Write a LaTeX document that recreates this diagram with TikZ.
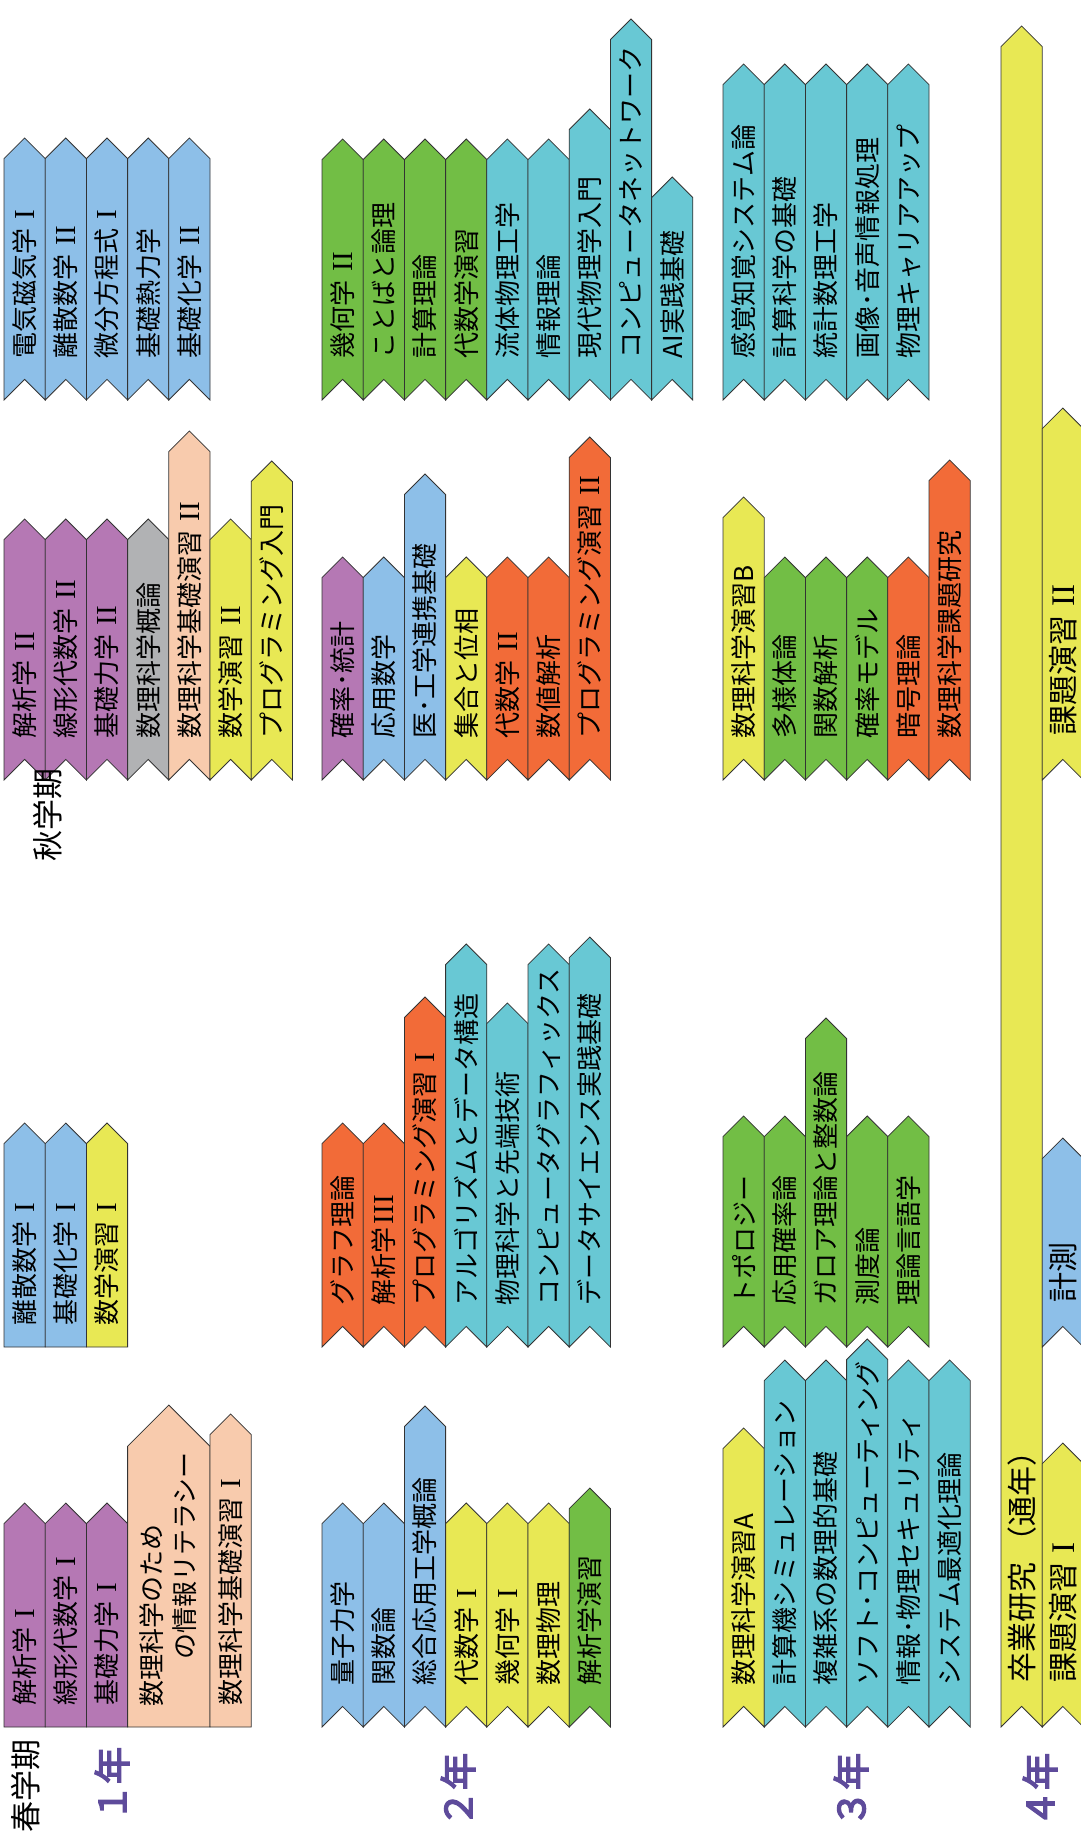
\documentclass[tikz,border=0pt]{standalone}
\usepackage{fontspec}
\newfontfamily\jp{Noto Sans CJK JP}
\newfontfamily\jpb[FakeBold=4]{Noto Sans CJK JP}
\newfontfamily\rmn{Liberation Serif}
\definecolor{cpurple}{RGB}{181,120,180}
\definecolor{cpeach}{RGB}{248,203,173}
\definecolor{cblue}{RGB}{141,191,232}
\definecolor{cyellow}{RGB}{232,232,84}
\definecolor{cgray}{RGB}{177,178,180}
\definecolor{corange}{RGB}{242,107,56}
\definecolor{cgreen}{RGB}{114,190,69}
\definecolor{ccyan}{RGB}{104,200,212}
\definecolor{clabel}{RGB}{94,75,155}
\tikzset{
  colbox/.style={draw=black!80, line width=0.8pt, line join=miter},
  ctext/.style={font=\jp\fontsize{26}{30}\selectfont, rotate=90, anchor=west, inner sep=0pt},
  termlabel/.style={font=\jp\fontsize{31}{34}\selectfont, rotate=90, inner sep=0pt},
  yearlabel/.style={font=\jpb\fontsize{37}{40}\selectfont, text=clabel, rotate=90, inner sep=0pt}
}
\newcommand\textgap{21}
\newcommand\numsize{29}
% Roman numeral with a gap before it, and without
\newcommand\RN[1]{\hspace{9pt}{\rmn\fontsize{\numsize}{\numsize}\selectfont #1}}
\newcommand\RNt[1]{\hspace{3pt}{\rmn\fontsize{\numsize}{\numsize}\selectfont #1}}
% #1 name, #2 x, #3 width, #4 tip y, #5 bottom y, #6 notch (0/1), #7 colour, #8 text
\newcommand\course[8]{%
  \pgfmathsetmacro\hw{#3/2}%
  \pgfmathsetmacro\sh{#4+#3/2}%
  \pgfmathsetmacro\nt{#5-#6*#3/2}%
  \filldraw[colbox, fill=#7] (#2,#5) -- (#2,\sh) -- (#2+\hw,#4) -- (#2+#3,\sh) -- (#2+#3,#5) -- (#2+\hw,\nt) -- cycle;
  \node[ctext] (#1) at (#2+\hw,\nt-\textgap) {#8};
}
\begin{document}
\begin{tikzpicture}[x=1pt,y=-1pt]
\useasboundingbox[fill=white] (0,0) rectangle (1081,1842);
% ---------- Year 1 ----------
\course{a1}{4}{41.2}{1503}{1727}{0}{cpurple}{解析学\RN{I}}
\course{a2}{45.2}{41.2}{1503}{1727}{0}{cpurple}{線形代数学\RN{I}}
\course{a3}{86.4}{41.2}{1503}{1727}{0}{cpurple}{基礎力学\RN{I}}
\course{a4}{127.6}{82.4}{1405}{1727}{0}{cpeach}{}
\node[ctext] (a4l1) at (152,1707) {数理科学のため};
\node[ctext] (a4l2) at (185,1660) {の情報リテラシー};
\course{a5}{210}{41.2}{1414}{1727}{0}{cpeach}{数理科学基礎演習\RN{I}}
\course{b1}{4}{41.2}{1123}{1347}{0}{cblue}{離散数学\RN{I}}
\course{b2}{45.2}{41.2}{1123}{1347}{0}{cblue}{基礎化学\RN{I}}
\course{b3}{86.4}{41.2}{1123}{1347}{0}{cyellow}{数学演習\RN{I}}
\course{c1}{4}{41.2}{519}{780}{1}{cpurple}{解析学\RN{II}}
\course{c2}{45.2}{41.2}{519}{780}{1}{cpurple}{線形代数学\RN{II}}
\course{c3}{86.4}{41.2}{519}{780}{1}{cpurple}{基礎力学\RN{II}}
\course{c4}{127.6}{41.2}{519}{780}{1}{cgray}{数理科学概論}
\course{c5}{168.8}{41.2}{431}{780}{1}{cpeach}{数理科学基礎演習\RN{II}}
\course{c6}{210}{41.2}{519}{780}{1}{cyellow}{数学演習\RN{II}}
\course{c7}{251.2}{41.2}{461}{780}{1}{cyellow}{プログラミング入門}
\course{d1}{4}{41.2}{138}{400}{1}{cblue}{電気磁気学\RN{I}}
\course{d2}{45.2}{41.2}{138}{400}{1}{cblue}{離散数学\RN{II}}
\course{d3}{86.4}{41.2}{138}{400}{1}{cblue}{微分方程式\RN{I}}
\course{d4}{127.6}{41.2}{138}{400}{1}{cblue}{基礎熱力学}
\course{d5}{168.8}{41.2}{138}{400}{1}{cblue}{基礎化学\RN{II}}
% ---------- Year 2 ----------
\course{e1}{322}{41.2}{1503}{1727}{1}{cblue}{量子力学}
\course{e2}{363.2}{41.2}{1503}{1727}{1}{cblue}{関数論}
\course{e3}{404.4}{41.2}{1406}{1727}{1}{cblue}{総合応用工学概論}
\course{e4}{445.6}{41.2}{1503}{1727}{1}{cyellow}{代数学\RN{I}}
\course{e5}{486.8}{41.2}{1503}{1727}{1}{cyellow}{幾何学\RN{I}}
\course{e6}{528}{41.2}{1503}{1727}{1}{cyellow}{数理物理}
\course{e7}{569.2}{41.2}{1488}{1727}{1}{cgreen}{解析学演習}
\course{f1}{322}{41.2}{1123}{1347}{1}{corange}{グラフ理論}
\course{f2}{363.2}{41.2}{1123}{1347}{1}{corange}{解析学\RNt{III}}
\course{f3}{404.4}{41.2}{997}{1347}{1}{corange}{プログラミング演習\RN{I}}
\course{f4}{445.6}{41.2}{944}{1347}{1}{ccyan}{アルゴリズムとデータ構造}
\course{f5}{486.8}{41.2}{1003}{1347}{1}{ccyan}{物理科学と先端技術}
\course{f6}{528}{41.2}{944}{1347}{1}{ccyan}{コンピュータグラフィックス}
\course{f7}{569.2}{41.2}{937}{1347}{1}{ccyan}{データサイエンス実践基礎}
\course{g1}{322}{41.2}{557}{780}{1}{cpurple}{確率･統計}
\course{g2}{363.2}{41.2}{557}{780}{1}{cblue}{応用数学}
\course{g3}{404.4}{41.2}{474}{780}{1}{cblue}{医･工学連携基礎}
\course{g4}{445.6}{41.2}{557}{780}{1}{cyellow}{集合と位相}
\course{g5}{486.8}{41.2}{557}{780}{1}{corange}{代数学\RN{II}}
\course{g6}{528}{41.2}{557}{780}{1}{corange}{数値解析}
\course{g7}{569.2}{41.2}{437}{780}{1}{corange}{プログラミング演習\RN{II}}
\course{h1}{322}{41.2}{139}{400}{1}{cgreen}{幾何学\RN{II}}
\course{h2}{363.2}{41.2}{139}{400}{1}{cgreen}{ことばと論理}
\course{h3}{404.4}{41.2}{139}{400}{1}{cgreen}{計算理論}
\course{h4}{445.6}{41.2}{139}{400}{1}{cgreen}{代数学演習}
\course{h5}{486.8}{41.2}{139}{400}{1}{ccyan}{流体物理工学}
\course{h6}{528}{41.2}{139}{400}{1}{ccyan}{情報理論}
\course{h7}{569.2}{41.2}{109}{400}{1}{ccyan}{現代物理学入門}
\course{h8}{610.4}{41.2}{19}{400}{1}{ccyan}{コンピュータネットワーク}
\course{h9}{651.6}{41.2}{177}{400}{1}{ccyan}{AI実践基礎}
% ---------- Year 3 ----------
\course{i1}{723}{41.2}{1428}{1727}{1}{cyellow}{数理科学演習A}
\course{i2}{764.2}{41.2}{1360}{1727}{1}{ccyan}{計算機シミュレーション}
\course{i3}{805.4}{41.2}{1360}{1727}{1}{ccyan}{複雑系の数理的基礎}
\course{i4}{846.6}{41.2}{1339}{1727}{1}{ccyan}{ソフト･コンピューティング}
\course{i5}{887.8}{41.2}{1360}{1727}{1}{ccyan}{情報･物理セキュリティ}
\course{i6}{929}{41.2}{1360}{1727}{1}{ccyan}{システム最適化理論}
\course{j1}{723}{41.2}{1116}{1347}{1}{cgreen}{トポロジー}
\course{j2}{764.2}{41.2}{1116}{1347}{1}{cgreen}{応用確率論}
\course{j3}{805.4}{41.2}{1018}{1347}{1}{cgreen}{ガロア理論と整数論}
\course{j4}{846.6}{41.2}{1116}{1347}{1}{cgreen}{測度論}
\course{j5}{887.8}{41.2}{1116}{1347}{1}{cgreen}{理論言語学}
\course{k1}{723}{41.2}{497}{780}{1}{cyellow}{数理科学演習B}
\course{k2}{764.2}{41.2}{557}{780}{1}{cgreen}{多様体論}
\course{k3}{805.4}{41.2}{557}{780}{1}{cgreen}{関数解析}
\course{k4}{846.6}{41.2}{557}{780}{1}{cgreen}{確率モデル}
\course{k5}{887.8}{41.2}{557}{780}{1}{corange}{暗号理論}
\course{k6}{929}{41.2}{460}{780}{1}{corange}{数理科学課題研究}
\course{l1}{723}{41.2}{64}{400}{1}{ccyan}{感覚知覚システム論}
\course{l2}{764.2}{41.2}{64}{400}{1}{ccyan}{計算科学の基礎}
\course{l3}{805.4}{41.2}{64}{400}{1}{ccyan}{統計数理工学}
\course{l4}{846.6}{41.2}{64}{400}{1}{ccyan}{画像･音声情報処理}
\course{l5}{887.8}{41.2}{64}{400}{1}{ccyan}{物理キャリアアップ}
% ---------- Year 4 ----------
\begin{scope}
\tikzset{ctext/.append style={font=\jp\fontsize{30}{34}\selectfont}}
\renewcommand\textgap{24}
\renewcommand\numsize{33}
\course{m1}{1001}{41.2}{26}{1727}{1}{cyellow}{卒業研究\hspace{6pt}（通年）}
\course{m2}{1042.2}{41.2}{1443}{1727}{1}{cyellow}{課題演習\RN{I}}
\course{m3}{1042.2}{41.2}{1138}{1347}{1}{cblue}{計測}
\course{m4}{1042.2}{41.2}{408}{780}{1}{cyellow}{課題演習\RN{II}}
\end{scope}
% ---------- labels ----------
\node[termlabel] (spring) at (26,1786) {春学期};
\node[termlabel] (autumn) at (48,815) {秋学期};
\node[yearlabel] (y1) at (112,1784) {１年};
\node[yearlabel] (y2) at (458,1790) {２年};
\node[yearlabel] (y3) at (851,1790) {３年};
\node[yearlabel] (y4) at (1040,1790) {４年};
\end{tikzpicture}
\end{document}
